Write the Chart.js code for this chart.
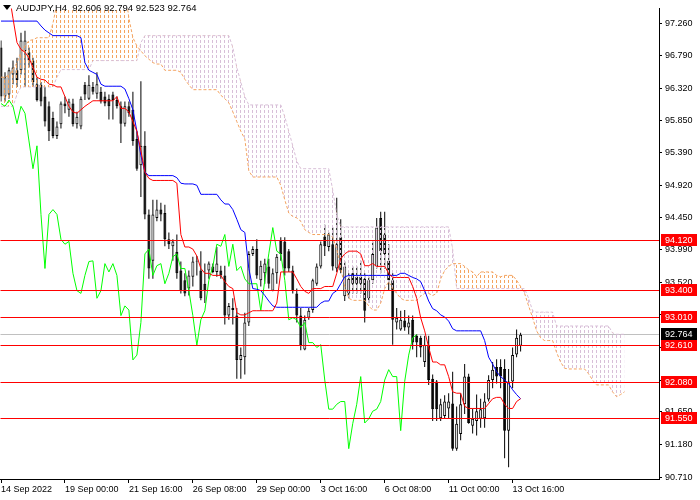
<!DOCTYPE html>
<html><head><meta charset="utf-8">
<script src="https://cdn.jsdelivr.net/npm/chart.js@4.4.1/dist/chart.umd.min.js"></script>
<style>html,body{margin:0;padding:0;background:#fff}#wrap{width:700px;height:500px;position:relative}</style>
</head><body><div id="wrap"><canvas id="c"></canvas></div>
<script>
const symbol = "AUDJPY,H4";
const xTickIdx = [0,16,32,48,64,80,96,112,128];
const xTickLabels = ["14 Sep 2022","19 Sep 00:00","21 Sep 16:00","26 Sep 08:00","29 Sep 00:00","3 Oct 16:00","6 Oct 08:00","11 Oct 00:00","13 Oct 16:00"];
const yTickValues = [97.26,96.79,96.32,95.85,95.39,94.92,94.45,93.99,93.52,93.05,92.58,92.11,91.65,91.18,90.71];
const levels = [94.12,93.40,93.01,92.61,92.08,91.55];
const lastPrice = 92.764;
const chikouShift = 26;

const opens = [96.91,96.20,96.23,96.52,96.58,96.58,96.86,96.84,96.72,96.38,96.37,96.20,96.06,95.89,95.63,95.80,96.10,96.01,96.10,95.80,
95.77,96.37,96.17,96.34,96.24,96.27,96.20,96.17,96.23,96.15,96.06,95.81,96.06,96.01,95.59,95.21,95.49,94.50,93.83,94.45,
94.57,94.52,94.14,94.04,93.96,93.69,93.55,93.43,93.60,93.82,93.69,93.50,93.69,93.75,93.67,93.69,93.62,93.04,93.15,93.04,
92.40,92.44,92.94,93.93,94.00,93.55,93.65,93.75,93.40,93.65,94.13,94.11,93.97,93.69,93.36,93.04,92.55,93.01,93.12,93.50,
93.75,94.18,94.03,94.07,93.72,94.17,93.32,93.36,93.65,93.60,93.60,93.57,93.29,93.55,93.75,94.45,94.21,93.83,93.55,92.94,
92.84,92.97,92.87,92.98,92.75,92.72,92.37,92.62,92.13,92.09,91.56,91.59,91.70,91.77,91.12,91.33,91.76,92.16,91.45,91.52,
91.55,91.56,91.83,92.11,92.30,92.30,92.27,91.38,92.09,92.48,92.606];
const highs = [97.01,96.55,96.62,96.72,96.76,97.12,97.15,96.91,96.76,96.48,96.41,96.34,96.13,95.98,95.84,96.13,96.20,96.17,96.17,95.98,
96.20,96.41,96.51,96.41,96.55,96.34,96.27,96.23,96.27,96.20,96.13,96.13,96.13,96.27,95.70,96.42,95.70,94.57,94.71,94.71,
94.67,94.64,94.24,94.14,94.21,93.82,93.65,93.69,93.89,93.90,93.97,93.79,93.82,93.79,94.03,93.76,93.76,93.22,93.29,93.15,
92.58,93.08,93.97,94.04,94.14,93.83,93.86,93.86,93.72,93.93,94.17,94.17,94.00,93.76,93.43,93.15,93.04,93.15,93.57,93.79,
94.11,94.35,94.24,94.31,94.74,94.43,93.82,93.65,93.75,93.75,93.83,93.65,93.60,94.11,94.45,94.54,94.54,94.07,93.65,93.15,
93.11,93.12,93.04,93.04,92.77,92.75,92.75,92.75,92.19,92.11,91.84,91.89,91.92,92.23,91.73,91.92,92.34,92.20,91.70,91.90,
91.84,91.92,92.18,92.37,92.41,92.41,92.41,92.27,92.58,92.84,92.794];
const lows = [96.13,96.13,96.17,96.38,96.34,96.52,96.34,96.62,96.34,96.13,96.06,95.77,95.56,95.60,95.59,95.74,95.96,95.91,95.77,95.74,
95.73,96.15,96.15,96.23,96.17,96.10,96.06,95.87,95.87,96.03,95.53,95.77,95.91,95.49,95.13,94.75,94.43,93.57,93.57,94.40,
94.40,94.04,94.00,93.83,93.57,93.36,93.32,93.33,93.46,93.62,93.26,93.22,93.57,93.65,93.60,93.57,92.91,92.98,92.91,92.13,
92.13,92.19,92.89,93.90,93.57,93.46,93.50,93.43,93.39,93.50,93.83,93.62,93.67,93.36,92.94,92.54,92.54,92.98,93.08,93.47,
93.72,93.90,93.97,93.69,93.67,93.65,93.25,93.29,93.36,93.36,93.36,92.94,93.22,93.50,93.72,93.65,93.72,93.40,92.62,92.84,
92.82,92.82,92.77,92.55,92.44,92.44,92.30,92.04,91.52,91.52,91.52,91.55,91.56,91.09,91.09,91.24,91.62,91.48,91.34,91.31,
91.42,91.42,91.80,91.99,92.06,91.99,90.98,90.85,91.99,92.44,92.523];
const closes = [96.20,96.48,96.58,96.62,96.44,97.01,97.01,96.72,96.41,96.15,96.13,95.84,95.70,95.63,95.77,96.10,96.06,96.13,95.80,95.91,
96.17,96.23,96.37,96.27,96.38,96.13,96.10,96.06,96.15,96.06,95.81,96.06,95.96,95.56,95.16,95.49,94.50,93.72,94.50,94.57,
94.50,94.14,94.07,94.11,93.65,93.40,93.36,93.62,93.82,93.83,93.29,93.40,93.79,93.67,93.79,93.62,93.04,93.18,93.12,92.40,
92.47,92.94,93.93,94.00,93.62,93.76,93.79,93.50,93.65,93.89,93.93,93.72,93.72,93.40,93.04,92.61,92.98,93.11,93.55,93.75,
94.07,94.04,94.21,93.75,94.07,93.69,93.75,93.57,93.50,93.50,93.50,93.11,93.55,93.93,94.31,93.97,93.93,93.55,92.98,93.01,
92.98,92.87,92.94,92.65,92.65,92.58,92.62,92.11,91.69,91.69,91.76,91.80,91.80,91.12,91.48,91.76,92.16,91.49,91.55,91.66,
91.69,91.80,92.11,92.26,92.16,92.16,91.38,92.09,92.47,92.72,92.764];

const tenkan = [98.04,97.90,97.69,97.33,96.98,96.88,96.84,96.76,96.62,96.48,96.45,96.44,96.38,96.37,96.34,96.34,96.20,96.06,95.98,95.96,
96.01,96.06,96.10,96.14,96.14,96.14,96.14,96.14,96.14,96.20,96.03,96.03,95.98,95.84,95.70,95.42,95.11,95.02,94.99,94.99,
94.99,94.99,94.99,94.99,94.95,94.21,94.03,94.03,94.00,93.90,93.72,93.65,93.65,93.62,93.62,93.62,93.53,93.46,93.43,93.08,
93.05,93.05,93.08,93.11,93.11,93.11,93.11,93.11,93.11,93.22,93.67,93.67,93.67,93.67,93.57,93.46,93.39,93.36,93.43,93.43,
93.43,93.46,93.46,93.46,93.65,93.86,93.93,93.97,93.97,93.97,93.93,93.76,93.76,93.79,93.75,93.75,93.75,93.65,93.59,93.59,
93.59,93.59,93.59,93.46,93.29,93.01,92.82,92.58,92.37,92.37,92.33,92.33,92.16,91.94,91.92,91.92,91.73,91.70,91.70,91.70,
91.70,91.70,91.77,91.84,91.86,91.86,91.76,91.70,91.70,91.80,91.84];
const kijun = [97.29,97.29,97.29,97.29,97.29,97.29,97.29,97.29,97.29,97.29,97.22,97.16,97.12,97.08,97.08,97.08,97.08,97.08,97.08,97.08,
97.05,96.69,96.58,96.55,96.52,96.38,96.35,96.35,96.35,96.35,96.35,96.31,96.17,96.01,95.70,95.35,95.11,95.06,95.06,95.06,
95.06,95.06,95.06,95.06,95.03,94.95,94.94,94.94,94.94,94.92,94.79,94.79,94.79,94.79,94.79,94.71,94.65,94.65,94.57,94.43,
94.28,94.24,93.72,93.43,93.42,93.40,93.33,93.25,93.18,93.16,93.16,93.16,93.16,93.16,93.16,93.16,93.16,93.16,93.16,93.16,
93.22,93.25,93.25,93.36,93.40,93.50,93.60,93.62,93.62,93.62,93.62,93.62,93.62,93.62,93.62,93.62,93.62,93.62,93.62,93.62,
93.65,93.65,93.62,93.59,93.57,93.53,93.40,93.25,93.14,93.11,93.05,93.02,92.96,92.85,92.82,92.82,92.82,92.82,92.82,92.82,
92.82,92.68,92.44,92.34,92.23,92.16,92.11,92.06,91.97,91.90,91.84];
const senkouA = [96.48,96.48,96.51,96.59,96.69,96.84,96.93,97.01,97.02,97.05,97.05,97.05,97.05,97.26,97.54,97.76,97.76,97.76,97.76,97.76,
97.76,97.76,97.76,97.76,97.76,97.76,97.76,97.76,97.76,97.76,97.76,97.76,97.33,97.05,96.93,96.86,96.79,96.74,96.69,96.67,
96.67,96.58,96.58,96.58,96.58,96.55,96.45,96.37,96.30,96.30,96.30,96.30,96.30,96.30,96.30,96.22,96.17,96.11,95.98,95.84,
95.70,95.59,95.13,95.04,95.04,95.04,95.04,95.04,95.04,95.04,94.92,94.71,94.52,94.47,94.45,94.40,94.28,94.24,94.21,94.21,
94.21,94.21,94.21,94.17,94.00,93.72,93.46,93.29,93.26,93.26,93.26,93.26,93.18,93.12,93.12,93.22,93.43,93.53,93.43,93.36,
93.29,93.26,93.26,93.26,93.26,93.32,93.36,93.36,93.33,93.36,93.57,93.69,93.75,93.79,93.79,93.79,93.75,93.70,93.67,93.60,
93.67,93.67,93.67,93.67,93.62,93.60,93.62,93.62,93.62,93.55,93.46,93.36,93.18,93.01,92.82,92.72,92.68,92.68,92.68,92.51,
92.37,92.28,92.27,92.27,92.27,92.27,92.27,92.20,92.11,92.04,92.04,92.04,92.04,91.94,91.87,91.90,91.94];
const senkouB = [96.06,96.06,96.06,96.06,96.23,96.34,96.34,96.34,96.34,96.34,96.34,96.34,96.34,96.34,96.48,96.59,96.59,96.59,96.59,96.59,
96.59,96.59,96.59,96.72,96.72,96.72,96.72,96.72,96.72,96.72,96.72,96.72,96.72,96.72,96.72,96.98,97.08,97.08,97.08,97.08,
97.08,97.08,97.08,97.08,97.08,97.08,97.08,97.08,97.08,97.08,97.08,97.08,97.08,97.08,97.08,97.08,97.08,97.08,96.91,96.62,
96.41,96.20,96.08,96.08,96.08,96.08,96.08,96.08,96.08,96.08,96.08,95.91,95.70,95.49,95.27,95.16,95.16,95.16,95.16,95.16,
95.16,95.16,95.16,94.85,94.50,94.32,94.32,94.32,94.32,94.32,94.32,94.32,94.32,94.32,94.32,94.32,94.32,94.32,94.32,94.32,
94.32,94.32,94.32,94.32,94.32,94.32,94.32,94.32,94.32,94.32,94.32,94.32,94.32,94.00,93.43,93.43,93.43,93.43,93.43,93.43,
93.43,93.43,93.43,93.43,93.43,93.43,93.43,93.43,93.43,93.43,93.43,93.43,93.29,93.11,93.09,93.09,93.09,93.09,93.09,92.89,
92.89,92.89,92.89,92.89,92.89,92.89,92.89,92.89,92.89,92.89,92.89,92.89,92.89,92.79,92.77,92.77,92.77];

const yMin = 90.682, yMax = 97.473;
const xMin = -0.125, xMax = 164.625;

const canvas = document.getElementById('c');
const ctx = canvas.getContext('2d');
function hatch(color){
  const t = document.createElement('canvas'); t.width = 4; t.height = 5;
  const g = t.getContext('2d'); g.fillStyle = color; g.fillRect(0,0,1,3);
  return ctx.createPattern(t,'repeat');
}
const orangePat = hatch('#F4A460');
const plumPat = hatch('#D8BFD8');

const bodies = closes.map((c,i)=>({x:i, y:[opens[i], c]}));
const wicks = closes.map((c,i)=>({x:i, y:[lows[i], highs[i]]}));
const bodyColors = closes.map((c,i)=> c >= opens[i] ? '#FFFFFF' : '#000000');
const pts = arr => arr.map((v,i)=>({x:i, y:v}));
const chikou = pts(closes.slice(chikouShift));

Chart.defaults.font.family = "'Liberation Sans', Arial, sans-serif";
Chart.defaults.font.size = 9;
Chart.defaults.color = '#000';

const overlay = {
  id: 'overlay',
  beforeDatasetsDraw(chart){
    const {ctx:c, chartArea:a, scales:{y}} = chart;
    const py = Math.floor(y.getPixelForValue(lastPrice)) + 0.5;
    c.save(); c.strokeStyle = '#C0C0C0'; c.lineWidth = 1;
    c.beginPath(); c.moveTo(a.left, py); c.lineTo(a.right, py); c.stroke(); c.restore();
  },
  afterDatasetsDraw(chart){
    const {ctx:c, chartArea:a, scales:{y}} = chart;
    c.save(); c.strokeStyle = '#FF0000'; c.lineWidth = 1;
    levels.forEach(l=>{
      const py = Math.floor(y.getPixelForValue(l)) + 0.5;
      c.beginPath(); c.moveTo(a.left, py); c.lineTo(a.right, py); c.stroke();
    });
    c.restore();
  },
  afterDraw(chart){
    const {ctx:c, chartArea:a, scales:{y}} = chart;
    c.save();
    c.font = "9px 'Liberation Sans', Arial, sans-serif";
    c.textBaseline = 'middle'; c.textAlign = 'left';
    const box = (v, bg) => {
      const py = Math.floor(y.getPixelForValue(v));
      c.fillStyle = bg; c.fillRect(a.right + 2, py - 6, 36, 12);
      c.fillStyle = '#FFFFFF'; c.fillText(v.toFixed(3), a.right + 6, py + 0.5);
    };
    levels.forEach(l => box(l, '#FF0000'));
    box(lastPrice, '#000000');
    // title
    const n = closes.length - 1;
    const t = symbol + '  ' + [opens[n], highs[n], lows[n], closes[n]].map(v=>v.toFixed(3)).join(' ');
    c.fillStyle = '#000';
    c.beginPath(); c.moveTo(3,5); c.lineTo(11,5); c.lineTo(7,10); c.closePath(); c.fill();
    c.font = "9.5px 'Liberation Sans', Arial, sans-serif";
    c.textBaseline = 'alphabetic';
    c.fillText(t, 16, 11);
    c.restore();
  }
};

new Chart(ctx, {
  type: 'bar',
  data: { datasets: [
    {type:'line', label:'Tenkan', data: pts(tenkan), borderColor:'#FF0000', borderWidth:1, pointRadius:0, fill:false, order:0},
    {type:'line', label:'Kijun', data: pts(kijun), borderColor:'#0000FF', borderWidth:1, pointRadius:0, fill:false, order:0},
    {type:'line', label:'Chikou', data: chikou, borderColor:'#00FF00', borderWidth:1, pointRadius:0, fill:false, order:0},
    {type:'line', label:'Senkou A', data: pts(senkouA), borderColor:'#F4A460', borderWidth:1, borderDash:[3,2], pointRadius:0,
      fill:{target:4, above: orangePat, below: plumPat}, order:2},
    {type:'line', label:'Senkou B', data: pts(senkouB), borderColor:'#D8BFD8', borderWidth:1, borderDash:[3,2], pointRadius:0, fill:false, order:3},
    {type:'bar', label:'Body', data: bodies, backgroundColor: bodyColors, borderColor:'#000000', borderWidth:1, borderSkipped:false,
      barThickness:3, grouped:false, inflateAmount:0, order:5},
    {type:'bar', label:'Wick', data: wicks, backgroundColor:'#000000', borderWidth:0, barThickness:1, grouped:false, inflateAmount:0, order:6}
  ]},
  options: {
    responsive:true, maintainAspectRatio:false, animation:false, events:[],
    layout:{padding:0},
    plugins:{legend:{display:false}, tooltip:{enabled:false}, title:{display:false}},
    scales:{
      x:{type:'linear', min:xMin, max:xMax, offset:false,
        afterFit(s){ s.height = 21; },
        afterBuildTicks(s){ s.ticks = xTickIdx.map(v=>({value:v})); },
        grid:{display:true, drawOnChartArea:false, drawTicks:true, tickLength:4, color:'#000', offset:false},
        border:{display:true, color:'#000'},
        ticks:{autoSkip:false, maxRotation:0, minRotation:0, align:'start', padding:1,
          callback:(v)=>{ const k = xTickIdx.indexOf(v); return k >= 0 ? xTickLabels[k] : ''; }}
      },
      y:{type:'linear', position:'right', min:yMin, max:yMax,
        afterFit(s){ s.width = 41; },
        afterBuildTicks(s){ s.ticks = yTickValues.map(v=>({value:v})); },
        grid:{drawOnChartArea:false, drawTicks:true, tickLength:3, color:'#000'},
        border:{display:true, color:'#000'},
        ticks:{padding:3, callback:(v)=>Number(v).toFixed(3)}
      }
    }
  },
  plugins:[overlay]
});
</script></body></html>
